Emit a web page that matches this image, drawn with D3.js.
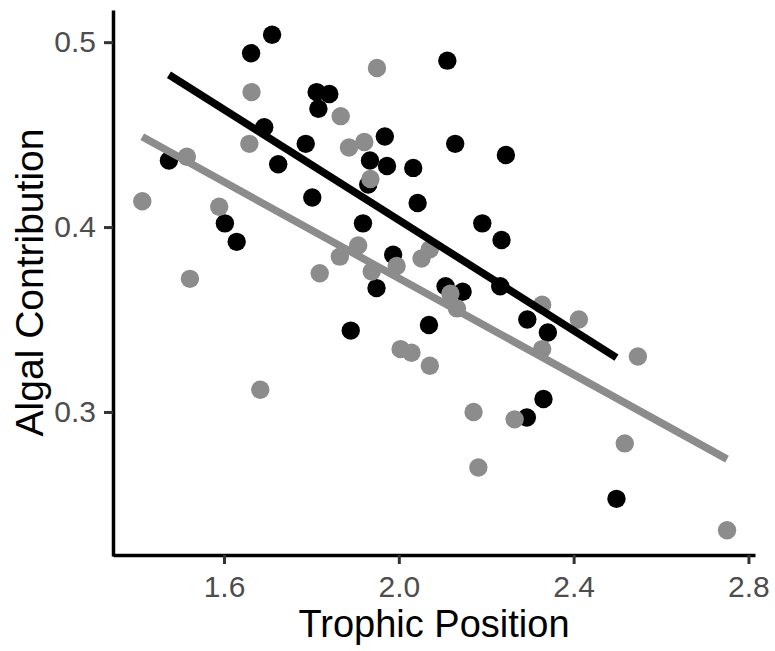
<!DOCTYPE html>
<html>
<head>
<meta charset="utf-8">
<script src="https://d3js.org/d3.v7.min.js"></script>
<style>
  body { margin: 0; background: #fff; }
  svg { display: block; font-family: "Liberation Sans", Arial, sans-serif; }
</style>
</head>
<body>
<div id="chart"></div>
<script>
// ============ Data ============
const blackX = [1.710, 1.662, 2.111, 1.812, 1.841, 1.816, 1.692, 1.787, 1.968, 2.129, 2.245, 1.474,
                1.724, 1.934, 1.973, 2.033, 1.930, 1.802, 2.043, 1.602, 1.918, 2.191, 2.235, 1.629,
                1.987, 1.949, 2.107, 2.146, 2.232, 2.294, 2.069, 2.341, 1.890, 2.331, 2.293, 2.498];
const blackY = [0.504, 0.494, 0.490, 0.473, 0.472, 0.464, 0.454, 0.445, 0.449, 0.445, 0.439, 0.436,
                0.434, 0.436, 0.433, 0.432, 0.423, 0.416, 0.413, 0.402, 0.402, 0.402, 0.393, 0.392,
                0.385, 0.367, 0.368, 0.365, 0.368, 0.350, 0.347, 0.343, 0.344, 0.307, 0.297, 0.253];

const greyX = [1.950, 1.663, 1.867, 1.658, 1.921, 1.886, 1.515, 1.935, 1.413, 1.589, 1.907, 1.865,
               1.819, 2.071, 2.052, 1.995, 1.938, 1.522, 2.118, 2.133, 2.328, 2.412, 2.328, 2.004,
               2.029, 2.071, 2.547, 1.683, 2.171, 2.265, 2.517, 2.182, 2.751];
const greyY = [0.486, 0.473, 0.460, 0.445, 0.446, 0.443, 0.438, 0.426, 0.414, 0.411, 0.390, 0.384,
               0.375, 0.388, 0.383, 0.379, 0.376, 0.372, 0.364, 0.356, 0.358, 0.350, 0.334, 0.334,
               0.332, 0.325, 0.330, 0.312, 0.300, 0.296, 0.283, 0.270, 0.236];

// fitted lines (start / end), as drawn
const blackFit = [[1.474, 0.4824], [2.498, 0.3294]];
const greyFit  = [[1.413, 0.4488], [2.751, 0.2745]];

const xTicks = [1.6, 2.0, 2.4, 2.8];
const yTicks = [0.3, 0.4, 0.5];

// ============ Layout ============
const W = 775, H = 651;
const mLeft = 113, mRight = 755, mTop = 10, mBottom = 555;

const x = d3.scaleLinear().domain([1.346, 2.815]).range([mLeft, mRight]);
const y = d3.scaleLinear().domain([0.2221, 0.5174]).range([mBottom + 1, mTop]);

const svg = d3.select('#chart').append('svg')
  .attr('width', W).attr('height', H);

// ── Points ──
const pts = svg.append('g');
pts.selectAll('circle.b')
  .data(d3.zip(blackX, blackY)).enter().append('circle')
  .attr('class', 'b')
  .attr('cx', d => x(d[0])).attr('cy', d => y(d[1]))
  .attr('r', 9.2).attr('fill', '#000');
pts.selectAll('circle.g')
  .data(d3.zip(greyX, greyY)).enter().append('circle')
  .attr('class', 'g')
  .attr('cx', d => x(d[0])).attr('cy', d => y(d[1]))
  .attr('r', 9.2).attr('fill', '#8c8c8c');

// ── Fit lines ──
const line = d3.line().x(d => x(d[0])).y(d => y(d[1]));
svg.append('path').attr('d', line(blackFit))
  .attr('stroke', '#000').attr('stroke-width', 7.5).attr('fill', 'none');
svg.append('path').attr('d', line(greyFit))
  .attr('stroke', '#8c8c8c').attr('stroke-width', 7.5).attr('fill', 'none');

// ── Axes ──
function styleAxis(g) {
  g.select('.domain').attr('stroke', '#000').attr('stroke-width', 3.5);
  g.selectAll('.tick line').attr('stroke', '#333').attr('stroke-width', 3);
  g.selectAll('.tick text')
    .attr('fill', '#4d4d4d')
    .style('font-size', '30px')
    .style('font-family', '"Liberation Sans", Arial, sans-serif');
}

svg.append('g')
  .attr('transform', `translate(0,${mBottom})`)
  .call(d3.axisBottom(x).tickValues(xTicks).tickFormat(d3.format('.1f'))
    .tickSize(9).tickSizeOuter(0).tickPadding(12))
  .call(styleAxis);

svg.append('g')
  .attr('transform', `translate(${mLeft},0)`)
  .call(d3.axisLeft(y).tickValues(yTicks).tickFormat(d3.format('.1f'))
    .tickSize(9).tickSizeOuter(0).tickPadding(8))
  .call(styleAxis);

// ── Axis titles ──
svg.append('text')
  .attr('x', (mLeft + mRight) / 2).attr('y', 637)
  .attr('text-anchor', 'middle')
  .style('font-size', '38px').attr('fill', '#000')
  .text('Trophic Position');

svg.append('text')
  .attr('transform', `translate(43,${(mTop + mBottom) / 2}) rotate(-90)`)
  .attr('text-anchor', 'middle')
  .style('font-size', '39px').attr('fill', '#000')
  .text('Algal Contribution');
</script>
</body>
</html>
